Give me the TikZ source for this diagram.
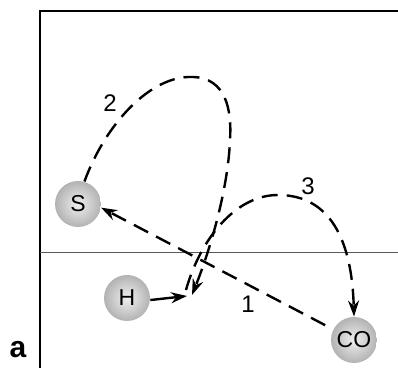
\documentclass[tikz,border=0pt]{standalone}
\usepackage{fontspec}
\setmainfont{Liberation Sans}
\usetikzlibrary{arrows.meta}

\begin{document}
\begin{tikzpicture}[x=0.5pt,y=-0.5pt,every node/.style={font=\fontsize{12}{14}\selectfont},
		atom/.style={circle,minimum size=23pt,inner sep=0pt,font=\fontsize{11.5}{13}\selectfont,
			shading=radial,inner color=gray!12,outer color=gray!60},
		hop/.style={line width=1.2pt,dash pattern=on 8pt off 4.5pt,
			-{Stealth[length=8pt,width=5.5pt]}}]
	\useasboundingbox (0,0) rectangle (398,368);

	% The frame and the surface line.
	\draw[line width=0.7pt] (40,368) -- (40,11) -- (398,11);
	\draw[gray!70!black,line width=0.5pt] (40,253) -- (398,253);
	\node[font=\fontsize{15}{17}\selectfont\bfseries] (panel) at (18,350) {a};

	% The three adsorbed species.
	\node[atom] (S) at (78,204) {S};
	\node[atom] (H) at (127,298) {H};
	\node[atom] (CO) at (354,340) {CO};

	% Free ends of the hops near the middle of the surface.
	\coordinate (Htip) at (187,296);
	\coordinate (end2) at (192,295);
	\coordinate (start3) at (186,290);

	% Step 1 runs straight from CO back to S.
	\draw[hop,shorten <=4.5pt] (CO.153) -- (S.-9);
	\node (lab1) at (248,304) {1};

	% H moves a short way to the right.
	\draw[line width=1.2pt,-{Stealth[length=8pt,width=5.5pt]}] (H.-5) -- (Htip);

	% Step 2 loops up from S and comes down next to H.
	\draw[hop] (S.74) .. controls (105,125) and (150,75) .. (193,77)
		.. controls (226,78) and (232,110) .. (230,140)
		.. controls (228,190) and (210,250) .. (end2);
	\node (lab2) at (110,103) {2};

	% Step 3 arcs over to CO.
	\draw[hop] (start3) .. controls (200,240) and (235,195) .. (278,195)
		.. controls (330,195) and (352,240) .. (CO.north);
	\node (lab3) at (308,186) {3};
\end{tikzpicture}
\end{document}
